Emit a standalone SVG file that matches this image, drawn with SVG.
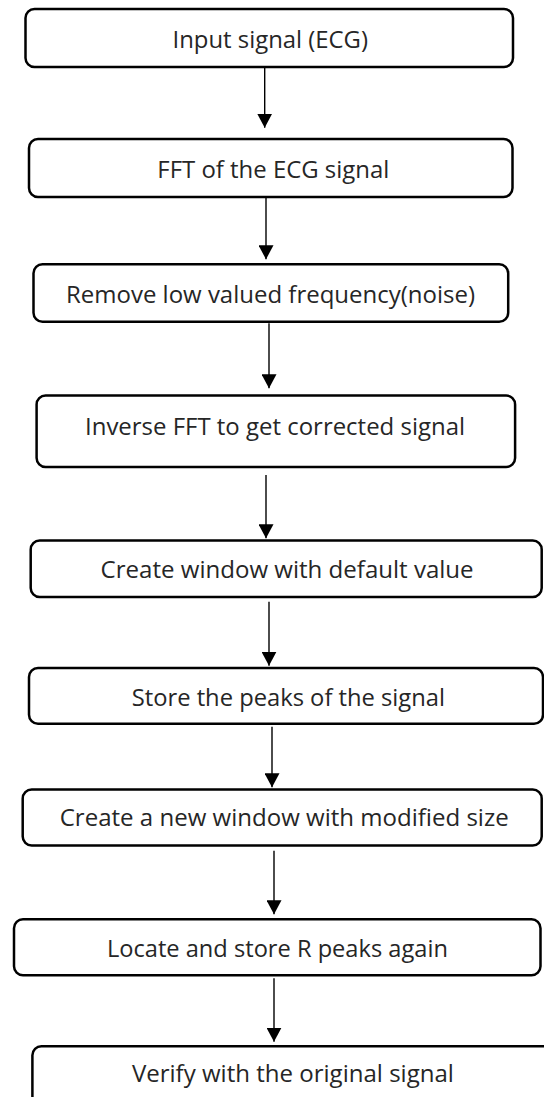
<svg xmlns="http://www.w3.org/2000/svg" width="544" height="1097" viewBox="0 0 544 1097">
<style>
.box{fill:#ffffff;stroke:#000000;stroke-width:2.5}
.lbl{font-family:"Open Sans","Noto Sans","Liberation Sans",sans-serif;font-size:23px;fill:#262626}
.conn{fill:none;stroke:#000000;stroke-width:1.4}
</style>
<defs>
<marker id="ah" markerUnits="userSpaceOnUse" markerWidth="14" markerHeight="15" viewBox="0 -7.5 14 15" refX="14" refY="0" orient="auto">
<path d="M0,-7.5 L14,0 L0,7.5 Z" fill="#000000"/>
</marker>
</defs>
<rect x="0" y="0" width="544" height="1097" fill="#ffffff"/>
<g id="connectors">
<path class="conn" d="M264.7,63.3 V127.7" marker-end="url(#ah)"/>
<path class="conn" d="M266,195 V259.3" marker-end="url(#ah)"/>
<path class="conn" d="M269,323.3 V388.3" marker-end="url(#ah)"/>
<path class="conn" d="M266,475 V538.3" marker-end="url(#ah)"/>
<path class="conn" d="M269,601.7 V665.7" marker-end="url(#ah)"/>
<path class="conn" d="M272,726.7 V787.3" marker-end="url(#ah)"/>
<path class="conn" d="M274,850.7 V914.3" marker-end="url(#ah)"/>
<path class="conn" d="M274,978.3 V1041.7" marker-end="url(#ah)"/>
</g>
<g id="n1"><rect class="box" x="25.5" y="9" width="487.5" height="58" rx="9"/><text class="lbl" x="172.5" y="48" textLength="195.5" lengthAdjust="spacingAndGlyphs">Input signal (ECG)</text></g>
<g id="n2"><rect class="box" x="29" y="139" width="483.5" height="58" rx="9"/><text class="lbl" x="157.3" y="178.3" textLength="232" lengthAdjust="spacingAndGlyphs">FFT of the ECG signal</text></g>
<g id="n3"><rect class="box" x="33.5" y="264.3" width="474.7" height="57.5" rx="9"/><text class="lbl" x="66" y="303.3" textLength="409" lengthAdjust="spacingAndGlyphs">Remove low valued frequency(noise)</text></g>
<g id="n4"><rect class="box" x="36.6" y="395.5" width="478.5" height="71.6" rx="9"/><text class="lbl" x="85" y="435" textLength="380" lengthAdjust="spacingAndGlyphs">Inverse FFT to get corrected signal</text></g>
<g id="n5"><rect class="box" x="30.7" y="540.5" width="511" height="56.6" rx="9"/><text class="lbl" x="100.6" y="578.3" textLength="373" lengthAdjust="spacingAndGlyphs">Create window with default value</text></g>
<g id="n6"><rect class="box" x="29" y="668" width="514" height="55.8" rx="9"/><text class="lbl" x="131.7" y="706" textLength="313.3" lengthAdjust="spacingAndGlyphs">Store the peaks of the signal</text></g>
<g id="n7"><rect class="box" x="22.7" y="789.5" width="519" height="56" rx="9"/><text class="lbl" x="59.7" y="826" textLength="449" lengthAdjust="spacingAndGlyphs">Create a new window with modified size</text></g>
<g id="n8"><rect class="box" x="14" y="919.2" width="526.5" height="56" rx="9"/><text class="lbl" x="106.9" y="957.3" textLength="341" lengthAdjust="spacingAndGlyphs">Locate and store R peaks again</text></g>
<g id="n9"><rect class="box" x="32.4" y="1046.2" width="530" height="80" rx="9"/><text class="lbl" x="131.9" y="1081.7" textLength="322" lengthAdjust="spacingAndGlyphs">Verify with the original signal</text></g>
</svg>
